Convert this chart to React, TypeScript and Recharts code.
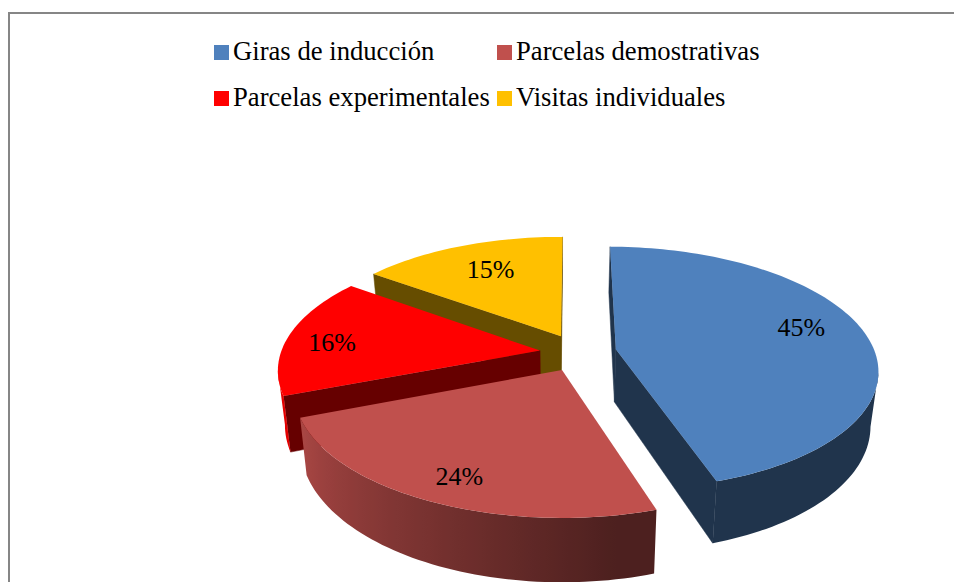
import React from 'react';
import { PieChart, Pie, Legend } from 'recharts';

const categories = ['Giras de inducción', 'Parcelas demostrativas', 'Parcelas experimentales', 'Visitas individuales'];
const shares = [45, 24, 16, 15];
const colors = ['#4f81bd', '#c0504d', '#ff0000', '#ffc000'];

// drawn back to front so the nearer slices cover the cut faces behind them
const drawOrder = [3, 2, 1, 0];
const pieData = drawOrder.map((i) => ({ name: categories[i], value: shares[i], color: colors[i], idx: i }));

// 3D look: each slice is pulled out on the pie plane, then put through a simple perspective
const CX = 561;
const CY = 352;
const RADIUS = 259;
const TILT = 0.46;
const PERSPECTIVE = 0.154;
const DEPTH = 53;
const BOTTOM_SHRINK = 0.975; // lower rim sits further from the camera
const ROTATION = 0.4;
const explode = [[55, 6], [1, -38], [-21, 3], [0, 35]];
const labelSpots = [[75.6, 0.77], [204.4, 0.827], [275, 0.817], [334.6, 0.71]];

const FONT = '"Liberation Serif", "Times New Roman", serif';

type Pt = { x: number; y: number; d: number };

const project = (idx: number, theta: number, r: number): Pt => {
  const rad = (theta * Math.PI) / 180;
  const X = explode[idx][0] + r * Math.sin(rad);
  const Y = explode[idx][1] + r * Math.cos(rad);
  const w = 1 + (PERSPECTIVE * Y) / RADIUS;
  return { x: CX + X / w, y: CY - (TILT * Y) / w, d: DEPTH / w };
};

const lower = (p: Pt) => ({ x: CX + (p.x - CX) * BOTTOM_SHRINK, y: p.y + p.d });

const shadeColor = (hex: string, f: number) => {
  const n = parseInt(hex.slice(1), 16);
  const c = [(n >> 16) & 255, (n >> 8) & 255, n & 255].map((v) => Math.round(v * f));
  return `rgb(${c[0]},${c[1]},${c[2]})`;
};

// wall brightness follows the angle around the pie, dark at the right front
const wallShade = (theta: number) => Math.min(0.95, Math.max(0.4, 0.4 + ((theta - 170) / 80) * 0.5));

const quad = (p: Pt, q: Pt) => {
  const a = lower(p);
  const b = lower(q);
  return `M${p.x},${p.y}L${q.x},${q.y}L${b.x},${b.y}L${a.x},${a.y}Z`;
};

const Slice3D = (props: any) => {
  const { startAngle, endAngle, outerRadius, payload } = props;
  const idx = payload.idx ?? props.idx;
  const color = payload.color ?? props.color;
  const from = 90 - endAngle + 360;
  const to = 90 - startAngle + 360;
  const apex = project(idx, 0, 0);
  const arc: { p: Pt; t: number }[] = [];
  const steps = Math.ceil((to - from) / 1.5);
  for (let i = 0; i <= steps; i++) {
    const t = from + ((to - from) * i) / steps;
    arc.push({ p: project(idx, t, outerRadius), t });
  }
  const first = arc[0].p;
  const last = arc[arc.length - 1].p;
  const cut = shadeColor(color, 0.4);
  const top = `M${apex.x},${apex.y}` + arc.map((a) => `L${a.p.x},${a.p.y}`).join('') + 'Z';

  // only edges running leftwards on screen show their wall to the viewer
  const seen = arc.filter((a, i) => (i > 0 && a.p.x < arc[i - 1].p.x) || (i < arc.length - 1 && arc[i + 1].p.x < a.p.x));
  let wall = '';
  let minX = 0;
  let maxX = 1;
  if (seen.length > 1) {
    const upper = seen.map((a, i) => `${i ? 'L' : 'M'}${a.p.x},${a.p.y}`).join('');
    const under = [...seen].reverse().map((a) => {
      const b = lower(a.p);
      return `L${b.x},${b.y}`;
    }).join('');
    wall = upper + under + 'Z';
    minX = Math.min(...seen.map((a) => a.p.x));
    maxX = Math.max(...seen.map((a) => a.p.x));
  }
  const gradId = `wall-${idx}`;

  return (
    <g>
      {apex.x > first.x && <path d={quad(apex, first)} fill={cut} stroke={cut} strokeWidth={0.5} />}
      {last.x > apex.x && <path d={quad(last, apex)} fill={cut} stroke={cut} strokeWidth={0.5} />}
      {wall && (
        <>
          <defs>
            <linearGradient id={gradId} gradientUnits="userSpaceOnUse" x1={minX} y1={0} x2={maxX} y2={0}>
              {[...seen].reverse().map((a, i) => (
                <stop
                  key={i}
                  offset={(a.p.x - minX) / (maxX - minX || 1)}
                  stopColor={shadeColor(color, wallShade(a.t))}
                />
              ))}
            </linearGradient>
          </defs>
          <path d={wall} fill={`url(#${gradId})`} />
        </>
      )}
      <path d={top} fill={color} />
    </g>
  );
};

const renderLabel = (props: any) => {
  const idx = props.payload?.idx ?? props.idx;
  const spot = labelSpots[idx];
  const p = project(idx, spot[0], spot[1] * RADIUS);
  return (
    <text x={p.x} y={p.y} textAnchor="middle" dominantBaseline="central" fontFamily={FONT} fontSize={26} fill="#000">
      {`${props.value}%`}
    </text>
  );
};

const legendBoxStyle = (i: number): React.CSSProperties => ({
  position: 'absolute',
  left: i % 2 === 0 ? 214 : 497,
  top: i < 2 ? 34 : 80,
  height: 34,
  display: 'flex',
  alignItems: 'center',
  whiteSpace: 'nowrap',
  fontFamily: FONT,
  fontSize: 26.67,
  color: '#000',
});

const renderLegend = () => (
  <div>
    {categories.map((name, i) => (
      <div key={name} style={legendBoxStyle(i)}>
        <span style={{ width: 15, height: 15, background: colors[i], marginRight: 4, marginTop: 2 }} />
        {name}
      </div>
    ))}
  </div>
);

export default function App() {
  return (
    <div style={{ position: 'fixed', left: 0, top: 0, width: 954, height: 582, background: '#fff', overflow: 'hidden' }}>
      <div
        style={{
          position: 'absolute',
          left: 8,
          top: 12,
          width: 960,
          height: 600,
          border: '2px solid #868686',
          boxSizing: 'border-box',
        }}
      />
      <PieChart width={954} height={582} margin={{ top: 0, right: 0, bottom: 0, left: 0 }} style={{ position: 'absolute', left: 0, top: 0 }}>
        <Legend
          content={renderLegend}
          layout="horizontal"
          verticalAlign="middle"
          wrapperStyle={{ top: 0, left: 0, width: 954, height: 0 }}
        />
        <Pie
          data={pieData}
          dataKey="value"
          nameKey="name"
          cx={CX}
          cy={CY}
          innerRadius={0}
          outerRadius={RADIUS}
          startAngle={90 - ROTATION}
          endAngle={450 - ROTATION}
          stroke="none"
          label={renderLabel}
          labelLine={false}
          shape={Slice3D}
          isAnimationActive={false}
        />
      </PieChart>
    </div>
  );
}
